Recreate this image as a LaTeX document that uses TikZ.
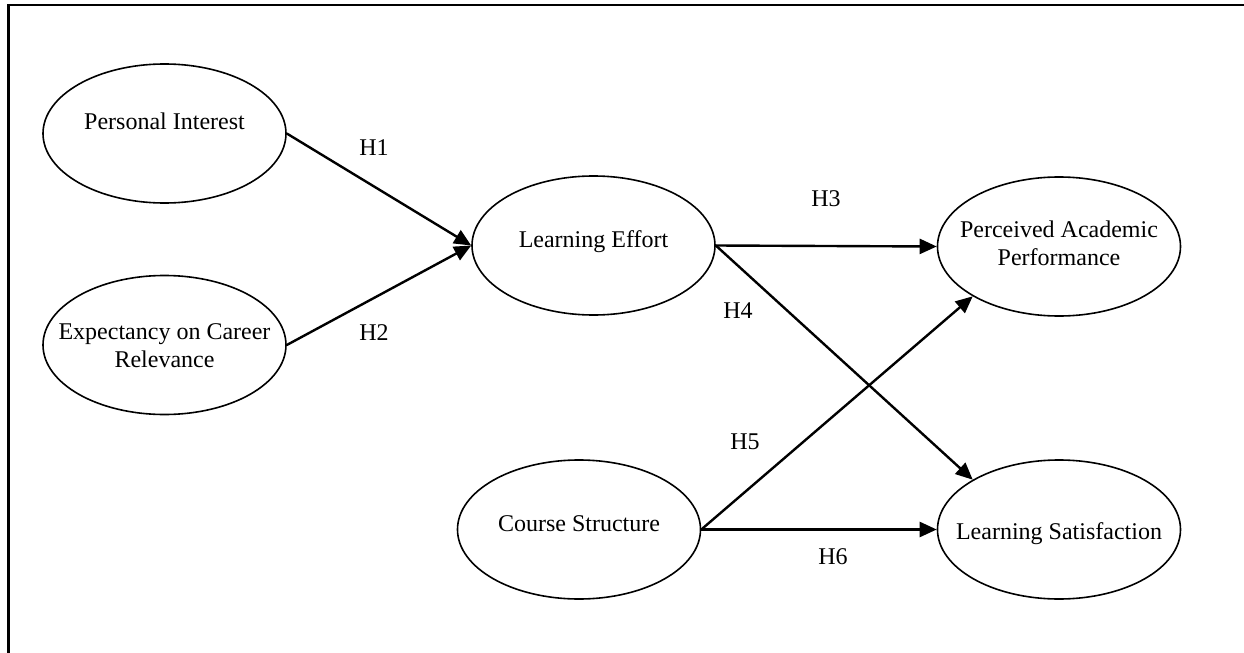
\documentclass[tikz,border=0pt]{standalone}
\usepackage{fontspec}
\setmainfont{Liberation Serif}
\usetikzlibrary{arrows.meta,shapes.geometric}
\begin{document}
\begin{tikzpicture}[x=0.5pt,y=-0.5pt,
  construct/.style={draw, ellipse, line width=0.8pt, minimum width=121.5pt, minimum height=69.5pt, inner sep=0pt},
  txt/.style={font=\fontsize{12pt}{13.8pt}\selectfont, align=center, inner sep=0pt},
  link/.style={line width=1.2pt, -{Triangle[length=8.5pt,width=7.5pt]}},
  hyp/.style={font=\fontsize{12pt}{13.8pt}\selectfont, inner sep=0pt},
  frame/.style={line width=1.3pt}]
\useasboundingbox (0,0) rectangle (1244,653);
\coordinate (fb) at (8.5,653);
\coordinate (fc) at (8.5,5);
\coordinate (fr) at (1244,5);
\draw[frame] (fb) -- (fc) -- (fr);

\node[construct] (PI) at (164.5,133.5) {};
\node[construct] (ECR) at (164.5,345) {};
\node[construct] (LE) at (593.5,245.5) {};
\node[construct] (PAP) at (1059,246.5) {};
\node[construct] (CS) at (579,529.5) {};
\node[construct] (LS) at (1059,529.5) {};

\node[txt] (PIt) at (164.5,121) {Personal Interest};
\node[txt] (ECRt) at (164.5,345.5) {Expectancy on Career\\Relevance};
\node[txt] (LEt) at (593.5,242) {Learning Effort};
\node[txt] (PAPt) at (1059,243) {Perceived Academic\\Performance};
\node[txt] (CSt) at (579,523.5) {Course Structure};
\node[txt] (LSt) at (1059,533.5) {Learning Satisfaction};

\draw[link] (PI.east) -- (LE.west);
\draw[link] (ECR.east) -- (LE.west);
\draw[link] (LE.east) -- (PAP.west);
\draw[link] (LE.east) -- (LS.150);
\draw[link] (CS.east) -- (PAP.210);
\draw[link] (CS.east) -- (LS.west);

\node[hyp] (H1) at (374,148) {H1};
\node[hyp] (H2) at (374,333) {H2};
\node[hyp] (H3) at (826,199) {H3};
\node[hyp] (H4) at (738,311) {H4};
\node[hyp] (H5) at (745,442) {H5};
\node[hyp] (H6) at (833,557) {H6};
\end{tikzpicture}
\end{document}
